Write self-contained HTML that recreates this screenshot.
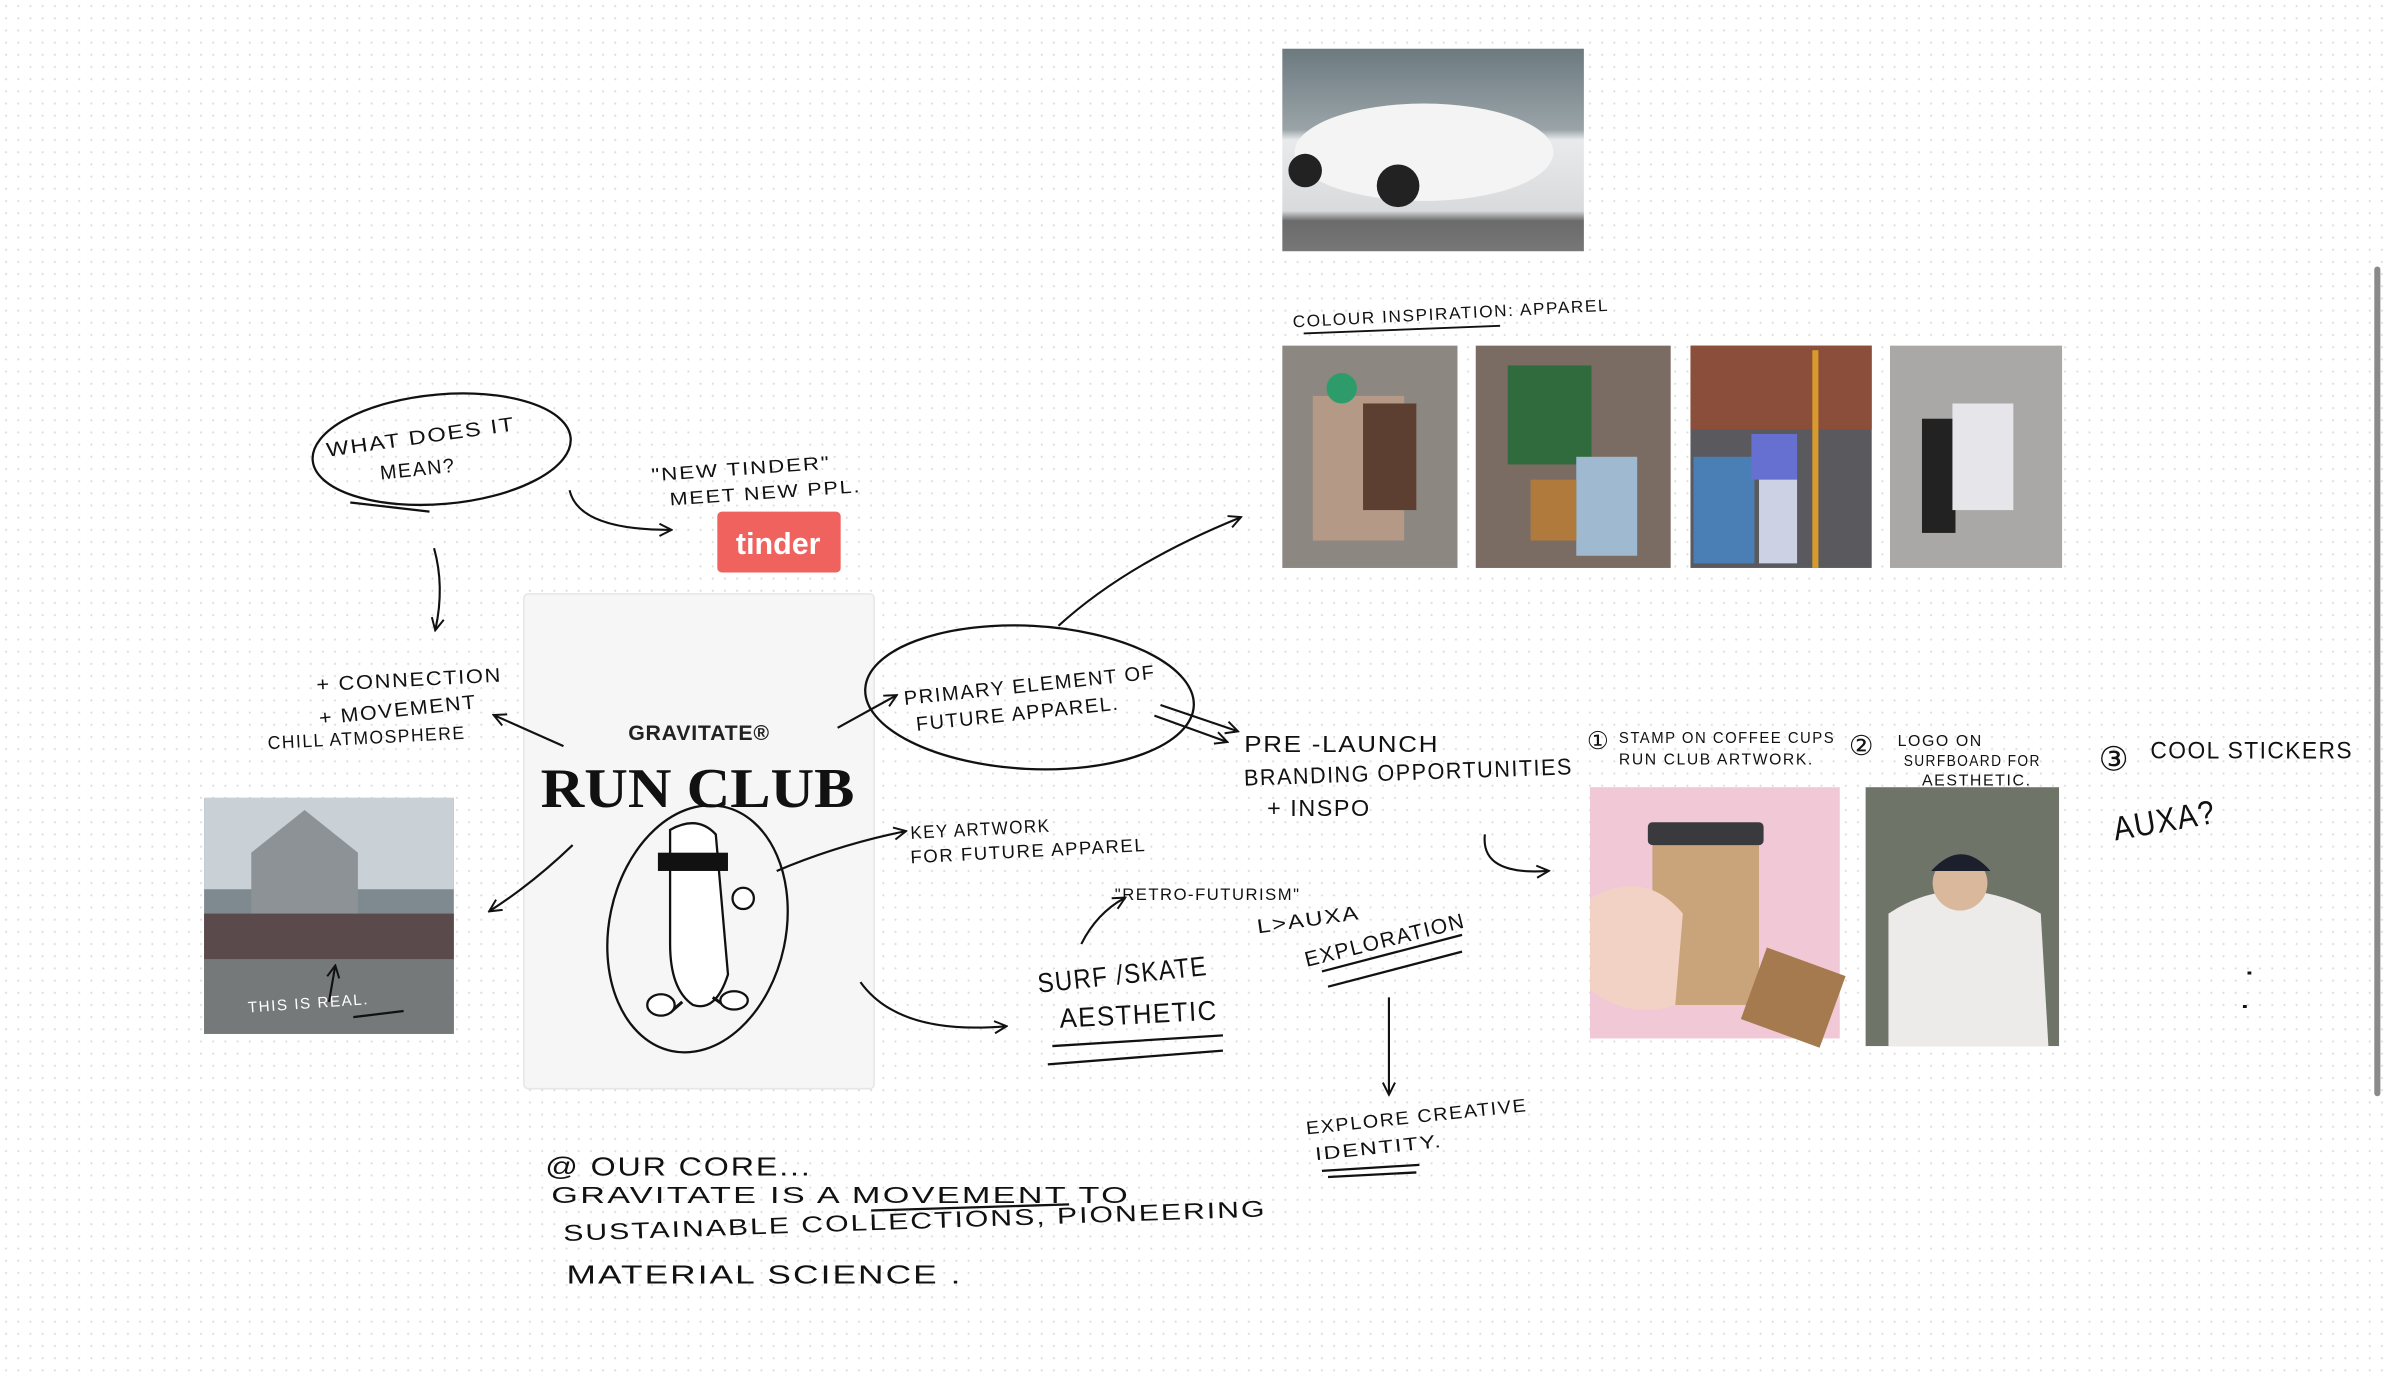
<!DOCTYPE html>
<html><head><meta charset="utf-8"><style>
html,body{margin:0;padding:0;background:#fff;width:2388px;height:1378px;overflow:hidden}
svg{display:block}
.h{font-family:"Liberation Sans Narrow","Liberation Sans",sans-serif;fill:#111;letter-spacing:1px}
</style></head><body>
<svg width="2388" height="1378" viewBox="0 0 1568 905" preserveAspectRatio="none" xmlns="http://www.w3.org/2000/svg">
<defs>
<pattern id="dots" width="8" height="8" patternUnits="userSpaceOnUse"><circle cx="4" cy="4" r="0.7" fill="#dcdcdc"/></pattern>
<marker id="a" markerWidth="10" markerHeight="10" refX="8" refY="5" orient="auto" markerUnits="userSpaceOnUse"><path d="M1,1 L9,5 L1,9" fill="none" stroke="#111" stroke-width="1.3"/></marker>
<linearGradient id="car" x1="0" y1="0" x2="0" y2="1"><stop offset="0" stop-color="#6c7a80"/><stop offset=".4" stop-color="#9aa4a8"/><stop offset=".45" stop-color="#e8eaec"/><stop offset=".8" stop-color="#d8dadc"/><stop offset=".85" stop-color="#6b6b6b"/><stop offset="1" stop-color="#777"/></linearGradient>
</defs>
<rect width="1568" height="905" fill="url(#dots)"/>
<rect x="1559" y="175" width="4" height="545" rx="2" fill="#8a8a8a"/>

<rect x="842" y="32" width="198" height="133" fill="url(#car)"/>
<ellipse cx="935" cy="100" rx="85" ry="32" fill="#f4f4f4"/>
<circle cx="918" cy="122" r="14" fill="#222"/><circle cx="857" cy="112" r="11" fill="#222"/>

<text class="h" x="849" y="215" font-size="11" textLength="208" lengthAdjust="spacingAndGlyphs" transform="rotate(-3 849 215)">COLOUR INSPIRATION: APPAREL</text>
<path d="M856 219 L985 214" stroke="#111" stroke-width="1.2"/>

<rect x="842" y="227" width="115" height="146" fill="#8d8782"/>
<rect x="862" y="260" width="60" height="95" fill="#b49a86"/><rect x="895" y="265" width="35" height="70" fill="#5c3f30"/><circle cx="881" cy="255" r="10" fill="#2e9c6a"/>
<rect x="969" y="227" width="128" height="146" fill="#7a6c62"/>
<rect x="990" y="240" width="55" height="65" fill="#2f6b3c"/><rect x="1035" y="300" width="40" height="65" fill="#9fb9d1"/><rect x="1005" y="315" width="30" height="40" fill="#b07a3c"/>
<rect x="1110" y="227" width="119" height="146" fill="#5a5a5e"/>
<rect x="1110" y="227" width="119" height="55" fill="#8a4e3a"/><rect x="1112" y="300" width="40" height="70" fill="#4a7fb5"/><rect x="1150" y="285" width="30" height="30" fill="#6670d0"/><rect x="1155" y="315" width="25" height="55" fill="#ccd2e4"/><rect x="1190" y="230" width="4" height="143" fill="#d89a2c"/>
<rect x="1241" y="227" width="113" height="146" fill="#a9a8a6"/>
<rect x="1262" y="275" width="22" height="75" fill="#222"/><rect x="1282" y="265" width="40" height="70" fill="#e6e6ea"/>

<rect x="471" y="336" width="81" height="40" rx="3" fill="#f0625e"/>
<text x="511" y="364" font-family="Liberation Sans,sans-serif" font-weight="bold" font-size="20" fill="#fff" text-anchor="middle">tinder</text>

<rect x="344" y="390" width="230" height="325" rx="3" fill="#f6f6f6" stroke="#e6e6e6"/>
<text x="459" y="486" font-family="Liberation Sans,sans-serif" font-size="14" font-weight="bold" fill="#222" text-anchor="middle" letter-spacing="0.5">GRAVITATE®</text>
<text x="458" y="530" font-family="Liberation Serif,serif" font-size="37" font-weight="bold" fill="#111" text-anchor="middle" textLength="206" lengthAdjust="spacingAndGlyphs">RUN CLUB</text>
<ellipse cx="458" cy="610" rx="58" ry="82" transform="rotate(12 458 610)" fill="none" stroke="#111" stroke-width="1.5"/>
<path d="M440 545 Q458 535 470 548 L478 640 Q470 665 455 660 Q440 650 440 620 Z" fill="#fff" stroke="#111" stroke-width="1.5"/>
<rect x="432" y="560" width="46" height="12" fill="#111"/>
<path d="M448 658 L440 665 M468 655 L478 662" stroke="#111" stroke-width="2"/>
<ellipse cx="434" cy="660" rx="9" ry="7" fill="#fff" stroke="#111" stroke-width="1.5"/>
<ellipse cx="482" cy="657" rx="9" ry="6" fill="#fff" stroke="#111" stroke-width="1.5"/>
<circle cx="488" cy="590" r="7" fill="#fff" stroke="#111" stroke-width="1.5"/>

<rect x="134" y="524" width="164" height="155" fill="#7f8a90"/>
<rect x="134" y="524" width="164" height="60" fill="#c9d1d6"/>
<path d="M165 600 L165 560 L200 532 L235 560 L235 600 Z" fill="#8d9296"/>
<rect x="134" y="600" width="164" height="30" fill="#5a4a4c"/>
<rect x="134" y="630" width="164" height="49" fill="#76797a"/>
<text class="h" x="163" y="665" font-size="10" style="fill:#fff" transform="rotate(-4 163 665)">THIS IS REAL.</text>

<rect x="1044" y="517" width="164" height="165" fill="#f0c8d6"/>
<rect x="1085" y="545" width="70" height="115" rx="5" fill="#c9a37a"/><rect x="1082" y="540" width="76" height="15" rx="3" fill="#3a3a3e"/>
<path d="M1044 590 Q1080 570 1105 600 L1100 660 Q1070 670 1044 650 Z" fill="#f2d2c4"/>
<rect x="1150" y="630" width="55" height="50" transform="rotate(20 1177 655)" fill="#a47a4e"/>
<rect x="1225" y="517" width="127" height="170" fill="#6f7468"/>
<path d="M1240 600 Q1285 570 1340 600 L1345 687 L1240 687 Z" fill="#ecebea"/>
<circle cx="1287" cy="580" r="18" fill="#d9b89c"/><path d="M1268 572 Q1288 550 1307 572 Z" fill="#1c1f2c"/>

<ellipse cx="290" cy="295" rx="85" ry="36" transform="rotate(-5 290 295)" fill="none" stroke="#111" stroke-width="1.5"/>
<ellipse cx="676" cy="458" rx="108" ry="47" transform="rotate(3 676 458)" fill="none" stroke="#111" stroke-width="1.5"/>

<g class="h">
<text x="215" y="300" font-size="13" textLength="125" lengthAdjust="spacingAndGlyphs" transform="rotate(-8 215 300)">WHAT DOES IT</text>
<text x="250" y="315" font-size="13" transform="rotate(-6 250 315)">MEAN?</text>
<text x="428" y="316" font-size="12" textLength="118" lengthAdjust="spacingAndGlyphs" transform="rotate(-4 428 316)">"NEW TINDER"</text>
<text x="440" y="332" font-size="12" textLength="126" lengthAdjust="spacingAndGlyphs" transform="rotate(-4 440 332)">MEET NEW PPL.</text>
<text x="208" y="454" font-size="13" textLength="122" lengthAdjust="spacingAndGlyphs" transform="rotate(-3 208 454)">+ CONNECTION</text>
<text x="210" y="476" font-size="13" textLength="104" lengthAdjust="spacingAndGlyphs" transform="rotate(-6 210 476)">+ MOVEMENT</text>
<text x="176" y="492" font-size="12" textLength="130" lengthAdjust="spacingAndGlyphs" transform="rotate(-3 176 492)">CHILL ATMOSPHERE</text>
<text x="594" y="463" font-size="13" textLength="166" lengthAdjust="spacingAndGlyphs" transform="rotate(-6 594 463)">PRIMARY ELEMENT OF</text>
<text x="602" y="480" font-size="13" textLength="134" lengthAdjust="spacingAndGlyphs" transform="rotate(-6 602 480)">FUTURE APPAREL.</text>
<text x="817" y="494" font-size="15" textLength="128" lengthAdjust="spacingAndGlyphs">PRE -LAUNCH</text>
<text x="817" y="516" font-size="15" textLength="216" lengthAdjust="spacingAndGlyphs" transform="rotate(-2 817 516)">BRANDING OPPORTUNITIES</text>
<text x="832" y="536" font-size="15" textLength="68" lengthAdjust="spacingAndGlyphs">+ INSPO</text>
<text x="598" y="551" font-size="12" textLength="92" lengthAdjust="spacingAndGlyphs" transform="rotate(-3 598 551)">KEY ARTWORK</text>
<text x="598" y="567" font-size="12" textLength="155" lengthAdjust="spacingAndGlyphs" transform="rotate(-3 598 567)">FOR FUTURE APPAREL</text>
<text x="732" y="591" font-size="11" textLength="122" lengthAdjust="spacingAndGlyphs">"RETRO-FUTURISM"</text>
<text x="826" y="613" font-size="13" textLength="68" lengthAdjust="spacingAndGlyphs" transform="rotate(-8 826 613)">L&gt;AUXA</text>
<text x="858" y="635" font-size="14" textLength="108" lengthAdjust="spacingAndGlyphs" transform="rotate(-14 858 635)">EXPLORATION</text>
<text x="682" y="652" font-size="18" textLength="112" lengthAdjust="spacingAndGlyphs" transform="rotate(-6 682 652)">SURF /SKATE</text>
<text x="696" y="675" font-size="18" textLength="104" lengthAdjust="spacingAndGlyphs" transform="rotate(-3 696 675)">AESTHETIC</text>
<text x="858" y="745" font-size="12" textLength="146" lengthAdjust="spacingAndGlyphs" transform="rotate(-6 858 745)">EXPLORE CREATIVE</text>
<text x="864" y="762" font-size="12" textLength="84" lengthAdjust="spacingAndGlyphs" transform="rotate(-6 864 762)">IDENTITY.</text>
<text x="1042" y="492" font-size="16">①</text>
<text x="1063" y="488" font-size="10" textLength="142" lengthAdjust="spacingAndGlyphs">STAMP ON COFFEE CUPS</text>
<text x="1063" y="502" font-size="10" textLength="128" lengthAdjust="spacingAndGlyphs">RUN CLUB ARTWORK.</text>
<text x="1214" y="496" font-size="18">②</text>
<text x="1246" y="490" font-size="10" textLength="56" lengthAdjust="spacingAndGlyphs">LOGO ON</text>
<text x="1250" y="503" font-size="10" textLength="90" lengthAdjust="spacingAndGlyphs">SURFBOARD FOR</text>
<text x="1262" y="516" font-size="10" textLength="72" lengthAdjust="spacingAndGlyphs">AESTHETIC.</text>
<text x="1378" y="506" font-size="22">③</text>
<text x="1412" y="498" font-size="16" textLength="133" lengthAdjust="spacingAndGlyphs">COOL STICKERS</text>
<text x="1389" y="552" font-size="22" textLength="68" lengthAdjust="spacingAndGlyphs" transform="rotate(-10 1389 552)">AUXA?</text>
<text x="358" y="772" font-size="17" textLength="175" lengthAdjust="spacingAndGlyphs">@ OUR CORE...</text>
<text x="362" y="790" font-size="15" textLength="380" lengthAdjust="spacingAndGlyphs">GRAVITATE IS A MOVEMENT TO</text>
<text x="370" y="815" font-size="15" textLength="462" lengthAdjust="spacingAndGlyphs" transform="rotate(-2 370 815)">SUSTAINABLE COLLECTIONS, PIONEERING</text>
<text x="372" y="843" font-size="17" textLength="260" lengthAdjust="spacingAndGlyphs">MATERIAL SCIENCE .</text>
</g>

<g stroke="#111" stroke-width="1.5" fill="none">
<path d="M230 330 L282 336"/>
<path d="M691 687 L803 680 M688 699 L803 690"/>
<path d="M868 638 L960 614 M872 648 L960 625"/>
<path d="M868 769 L932 765 M872 773 L930 770"/>
<path d="M572 795 L702 791"/>
<path d="M232 668 L265 664"/>
<path d="M1477 638 l0 2 M1474 660 l0 2" stroke-width="2.5"/>
</g>

<g stroke="#111" stroke-width="1.4" fill="none" marker-end="url(#a)">
<path d="M374 322 Q380 348 440 348"/>
<path d="M285 360 Q292 385 286 413"/>
<path d="M370 490 L325 470"/>
<path d="M376 555 Q350 580 322 598"/>
<path d="M550 478 L588 457"/>
<path d="M510 572 Q550 555 594 546"/>
<path d="M565 645 Q590 680 660 674"/>
<path d="M695 411 Q740 370 814 340"/>
<path d="M762 463 L812 480"/>
<path d="M758 470 L805 487"/>
<path d="M710 620 Q720 600 738 590"/>
<path d="M975 548 Q972 575 1016 572"/>
<path d="M912 655 L912 718"/>
<path d="M216 658 L220 635"/>
</g>
</svg>
</body></html>
